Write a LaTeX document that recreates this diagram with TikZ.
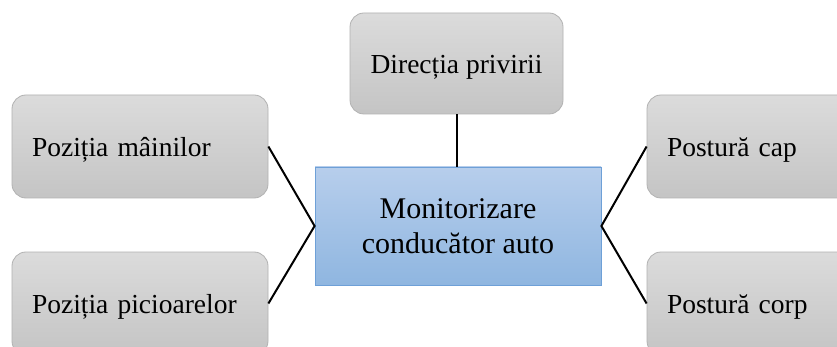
\documentclass[tikz,border=0pt]{standalone}
\usepackage{fontspec}
\setmainfont{Liberation Serif}
\begin{document}
\begin{tikzpicture}[x=1pt,y=-1pt,
  greybox/.style={draw=black!30, line width=0.8pt, rounded corners=14pt,
    top color=black!14, bottom color=black!23,
    minimum width=256pt, minimum height=103pt, inner sep=0pt,
    text height=25.5pt, text depth=6pt,
    font=\fontsize{27.5}{31}\selectfont},
  sidebox/.style={greybox, text width=216pt, align=left},
  mainbox/.style={draw={rgb,255:red,110;green,160;blue,215}, line width=0.8pt,
    top color={rgb,255:red,183;green,206;blue,236},
    bottom color={rgb,255:red,143;green,182;blue,224},
    minimum width=286pt, minimum height=118pt, inner sep=0pt, align=center,
    font=\fontsize{30}{35}\selectfont},
  link/.style={draw=black, line width=2pt}]
\useasboundingbox (0,0) rectangle (837,347);
\clip (0,0) rectangle (837,347);
\fill[white] (0,0) rectangle (837,347);

% central node
\node[mainbox] (C) at (458,226) {Monitorizare\\conducător auto};

% surrounding nodes
\node[greybox, minimum width=213pt, minimum height=101pt] (T) at (456.5,63.5) {Direcția privirii};
\node[sidebox] (L1) at (140,146.5) {Poziția mâinilor};
\node[sidebox] (L2) at (140,303.5) {Poziția picioarelor};
\node[sidebox] (R1) at (775,146.5) {Postură cap};
\node[sidebox] (R2) at (775,303.5) {Postură corp};

% connectors
\draw[link] (T.south) -- (T.south |- C.north);
\draw[link] (L1.east) -- (C.west) -- (L2.east);
\draw[link] (R1.west) -- (C.east) -- (R2.west);
\end{tikzpicture}
\end{document}
